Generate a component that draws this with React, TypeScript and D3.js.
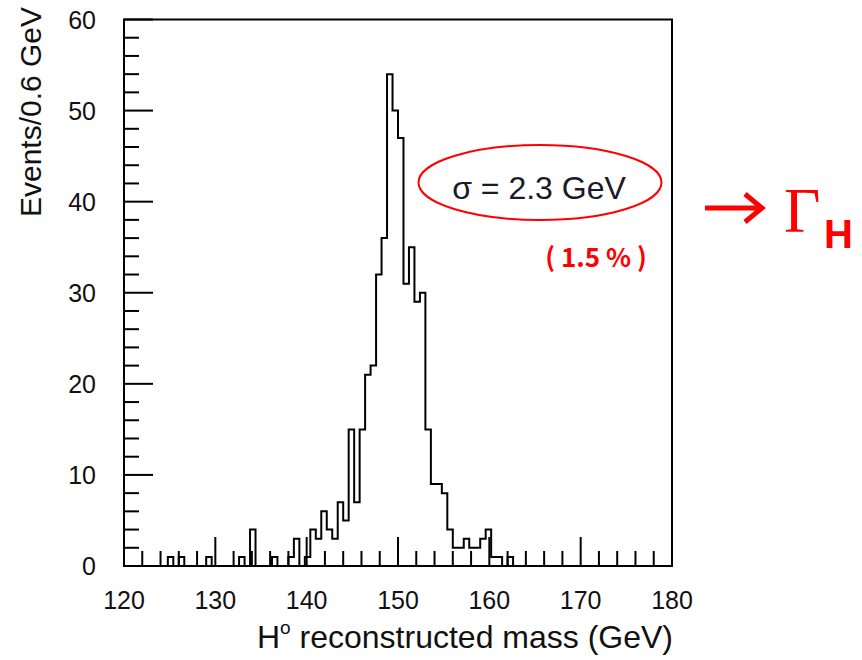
import React from "react";
import * as d3 from "d3";

// Histogram: events per 0.6 GeV bin, 120–180 GeV
const binStart = 120;
const binWidth = 0.6;
const counts = [
  0, 0, 0, 0, 0, 0, 0, 0, 1, 0,
  1, 0, 0, 0, 0, 1, 0, 0, 0, 0,
  0, 1, 0, 4, 0, 0, 0, 1, 0, 0,
  1, 3, 0, 1, 4, 3, 6, 4, 3, 7,
  5, 15, 7, 15, 21, 22, 32, 36, 54, 50,
  47, 31, 35, 29, 30, 15, 9, 9, 8, 4,
  2, 2, 3, 2, 2, 3, 4, 1, 1, 0,
  1, 0, 0, 0, 0, 0, 0, 0, 0, 0,
  0, 0, 0, 0, 0, 0, 0, 0, 0, 0,
  0, 0, 0, 0, 0, 0, 0, 0, 0, 0,
];

const xTickLabels = [120, 130, 140, 150, 160, 170, 180];
const yTickLabels = [0, 10, 20, 30, 40, 50, 60];
const xMinorTicks = d3.range(120, 181, 2);
const yMinorTicks = d3.range(0, 61, 2);

const sigmaText = "σ = 2.3 GeV";
const percentText = "( 1.5 % )";

export default function App() {
  const x = d3.scaleLinear().domain([120, 180]).range([124, 672]);
  const y = d3.scaleLinear().domain([0, 60]).range([566, 19.5]);

  const pts: [number, number][] = counts.map((c, i) => [binStart + i * binWidth, c]);
  pts.push([180, 0]);
  const line = d3
    .line<[number, number]>()
    .x((d) => x(d[0]))
    .y((d) => y(d[1]))
    .curve(d3.curveStepAfter);
  const pathD = "M" + x(120) + "," + y(0) + "L" + (line(pts) as string).slice(1);

  const font = "'Liberation Sans', Arial, Helvetica, sans-serif";
  const red = "#ff0000";

  return (
    <svg
      width={862}
      height={660}
      style={{ position: "absolute", left: 0, top: 0, background: "#fff" }}
    >
      <rect x={0} y={0} width={862} height={660} fill="#fff" />
      {/* histogram */}
      <path d={pathD} fill="none" stroke="#000" strokeWidth={2} strokeLinejoin="miter" />
      {/* frame */}
      <rect
        x={x(120)}
        y={y(60)}
        width={x(180) - x(120)}
        height={y(0) - y(60)}
        fill="none"
        stroke="#000"
        strokeWidth={2}
      />
      {/* x ticks */}
      {xMinorTicks.map((t) => (
        <line
          key={"xt" + t}
          x1={x(t)}
          x2={x(t)}
          y1={y(0)}
          y2={y(0) - (t % 10 === 0 ? 29 : 15)}
          stroke="#000"
          strokeWidth={2}
        />
      ))}
      {/* y ticks */}
      {yMinorTicks.map((t) => (
        <line
          key={"yt" + t}
          x1={x(120)}
          x2={x(120) + (t % 10 === 0 ? 29 : 15)}
          y1={y(t)}
          y2={y(t)}
          stroke="#000"
          strokeWidth={2}
        />
      ))}
      {/* x tick labels */}
      {xTickLabels.map((t) => (
        <text
          key={"xl" + t}
          x={x(t)}
          y={609}
          textAnchor="middle"
          fontFamily={font}
          fontSize={25}
          fill="#111"
        >
          {t}
        </text>
      ))}
      {/* y tick labels */}
      {yTickLabels.map((t) => (
        <text
          key={"yl" + t}
          x={96}
          y={y(t) + 9}
          textAnchor="end"
          fontFamily={font}
          fontSize={25}
          fill="#111"
        >
          {t}
        </text>
      ))}
      {/* axis titles */}
      <text
        x={673}
        y={648}
        textAnchor="end"
        fontFamily={font}
        fontSize={32}
        fill="#111"
      >
        H<tspan fontSize={19} dy={-14}>o</tspan>
        <tspan dy={14}> reconstructed mass (GeV)</tspan>
      </text>
      <text
        transform="translate(41,112) rotate(-90)"
        textAnchor="middle"
        fontFamily={font}
        fontSize={30}
        fill="#111"
      >
        Events/0.6 GeV
      </text>
      {/* annotations */}
      <ellipse cx={540} cy={182.5} rx={121.5} ry={37.5} fill="none" stroke={red} strokeWidth={2} />
      <text x={539} y={199} textAnchor="middle" fontFamily={font} fontSize={32} fill="#1a1a2a">
        {sigmaText}
      </text>
      <text
        x={596}
        y={267}
        textAnchor="middle"
        fontFamily="'Noto Sans CJK JP', 'Noto Sans', sans-serif"
        fontWeight="bold"
        fontSize={26}
        fill={red}
      >
        {percentText}
      </text>
      <path d="M705,208 H758" stroke={red} strokeWidth={5} fill="none" />
      <path d="M745,194 L762,208 L745,222" stroke={red} strokeWidth={5} fill="none" strokeLinejoin="miter" />
      <text x={784} y={232} fontFamily="'Liberation Serif', 'DejaVu Serif', serif" fontSize={63} fill={red}>
        Γ
      </text>
      <text x={824} y={248} fontFamily={font} fontWeight="bold" fontSize={40} fill={red}>
        H
      </text>
    </svg>
  );
}
